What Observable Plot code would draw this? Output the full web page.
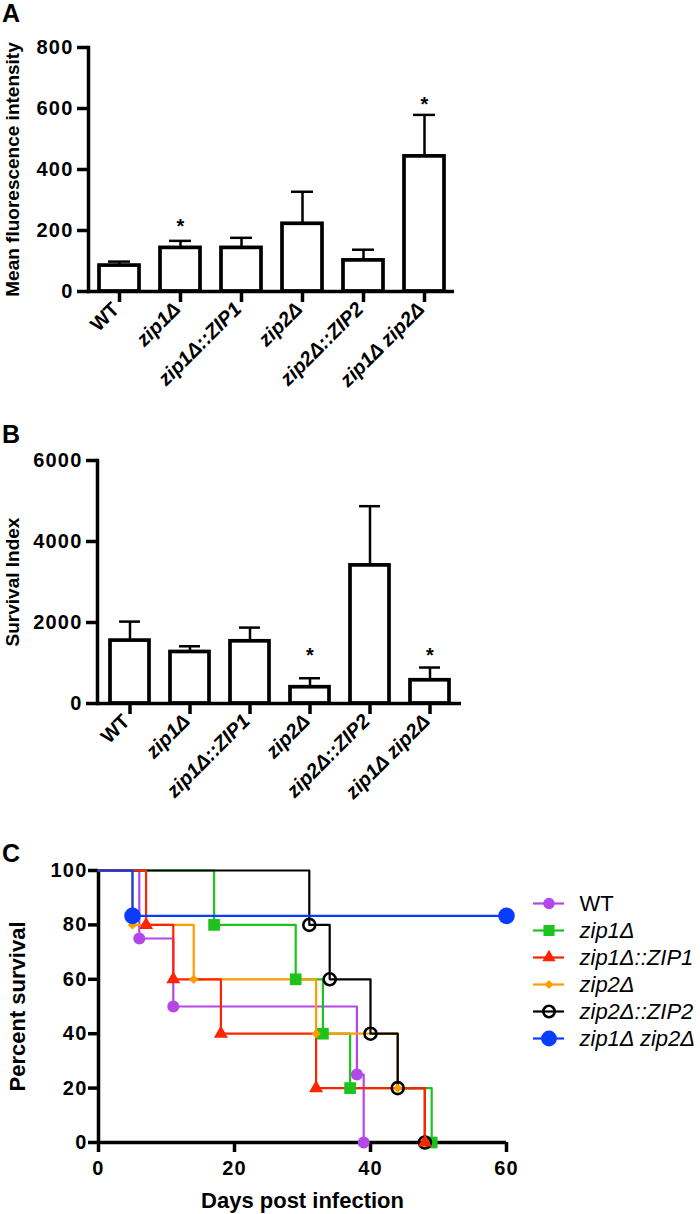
<!DOCTYPE html>
<html>
<head>
<meta charset="utf-8">
<script src="https://cdn.jsdelivr.net/npm/d3@7"></script>
<script src="https://cdn.jsdelivr.net/npm/@observablehq/plot@0.6"></script>
<style>
  html, body { margin: 0; padding: 0; background: #fff; }
  #wrap { position: relative; width: 700px; height: 1214px; overflow: hidden; font-family: 'Liberation Sans', Arial, Helvetica, sans-serif; }
  .panel { position: absolute; }
  .plabel { position: absolute; left: 2px; font-size: 25px; font-weight: bold; line-height: 25px; color: #000; }
  g[aria-label="y-axis tick label"] text, g[aria-label="x-axis tick label"] text { letter-spacing: 1.2px; }
</style>
</head>
<body>
<div id="wrap">
  <div class="plabel" style="top:1px">A</div>
  <div class="plabel" style="top:422px">B</div>
  <div class="plabel" style="top:841px">C</div>
</div>
<script>
// ---------- data ----------
const strains = ["WT", "zip1Δ", "zip1Δ::ZIP1", "zip2Δ", "zip2Δ::ZIP2", "zip1Δ zip2Δ"];

// Panel A: mean fluorescence intensity (mean, SEM)
const mfiMean = [85, 143, 143, 222, 102, 443];
const mfiSem  = [13, 23, 33, 105, 35, 136];
const mfiTicks = [0, 200, 400, 600, 800];
const mfiStarStrains = ["zip1Δ", "zip1Δ zip2Δ"];
const mfiStarY = [229, 629];

// Panel B: survival index (mean, SEM)
const siMean = [1553, 1272, 1536, 402, 3410, 574];
const siSem  = [469, 141, 338, 222, 1462, 314];
const siTicks = [0, 2000, 4000, 6000];
const siStarStrains = ["zip2Δ", "zip1Δ zip2Δ"];
const siStarY = [1300, 1300];

// Panel C: Kaplan–Meier survival (days post infection, percent survival)
const daysWT   = [0, 6, 11, 38, 39];
const pctWT    = [100, 75, 50, 25, 0];
const daysZip1 = [0, 17, 29, 33, 37, 49];
const pctZip1  = [100, 80, 60, 40, 20, 0];
const daysZip1c = [0, 7, 11, 18, 32, 48];
const pctZip1c  = [100, 80, 60, 40, 20, 0];
const daysZip2 = [0, 5, 14, 32, 44, 48];
const pctZip2  = [100, 80, 60, 40, 20, 0];
const daysZip2c = [0, 31, 34, 40, 44, 48];
const pctZip2c  = [100, 80, 60, 40, 20, 0];
const daysDbl  = [0, 5, 60];
const pctDbl   = [100, 83.33, 83.33];
const survXTicks = [0, 20, 40, 60];
const survYTicks = [0, 20, 40, 60, 80, 100];

// ---------- styles ----------
const fam = "'Liberation Sans', Arial, Helvetica, sans-serif";
const seriesStyle = [
  {name: "WT",           days: daysWT,    pct: pctWT,    color: "#b347e8", symbol: "circle",   r: 6,   fill: "#b347e8", sw: 0},
  {name: "zip1Δ",        days: daysZip1,  pct: pctZip1,  color: "#1dc21d", symbol: "square",   r: 6.6, fill: "#1dc21d", sw: 0},
  {name: "zip2Δ",        days: daysZip2,  pct: pctZip2,  color: "#ff9c00", symbol: "diamond2", r: 4.2, fill: "#ff9c00", sw: 0},
  {name: "zip2Δ::ZIP2",  days: daysZip2c, pct: pctZip2c, color: "#000000", symbol: "circle",   r: 6,   fill: "none",    sw: 2.6},
  {name: "zip1Δ::ZIP1",  days: daysZip1c, pct: pctZip1c, color: "#ff2400", symbol: "triangle", r: 5.2, fill: "#ff2400", sw: 0},
  {name: "zip1Δ zip2Δ",  days: daysDbl,   pct: pctDbl,   color: "#0a3cff", symbol: "circle",   r: 8.3, fill: "#0a3cff", sw: 0}
];
const legendOrder = ["WT", "zip1Δ", "zip1Δ::ZIP1", "zip2Δ", "zip2Δ::ZIP2", "zip1Δ zip2Δ"];

const wrap = document.getElementById("wrap");
function place(node, left, top) {
  node.classList.add("panel");
  node.style.left = left + "px";
  node.style.top = top + "px";
  wrap.appendChild(node);
}

// ---------- bar panels ----------
function barPanel({mean, sem, ticks, yMax, title, starStrains, starY, marginLeft, axisEnd, top}) {
  const data = strains.map((s, i) => ({strain: s, mean: mean[i], hi: mean[i] + sem[i]}));
  const stars = starStrains.map((s, i) => ({strain: s, y: starY[i]}));
  const chart = Plot.plot({
    width: axisEnd + 16,
    height: top.h,
    marginLeft, marginRight: 16, marginTop: top.mt, marginBottom: 120,
    style: {fontFamily: fam, color: "black", background: "transparent", overflow: "visible"},
    x: {domain: strains, paddingInner: 0.35, paddingOuter: 0.175, axis: null},
    y: {domain: [0, yMax], axis: null},
    marks: [
      Plot.ruleX(data, {x: "strain", y1: "mean", y2: "hi", strokeWidth: 2.5}),
      Plot.tickY(data, {x: "strain", y: "hi", insetLeft: 9, insetRight: 9, strokeWidth: 2.5}),
      Plot.barY(data, {x: "strain", y: "mean", fill: "white", stroke: "black", strokeWidth: 3.7}),
      Plot.axisY({ticks, tickSize: 11, strokeWidth: 3.5, tickPadding: 4, fontSize: 20, fontWeight: "bold", label: null, tickFormat: d3.format("d")}),
      Plot.axisX({tickSize: 11, strokeWidth: 3.5, tickFormat: () => "", label: null}),
      Plot.ruleY([0], {strokeWidth: 3.5}),
      Plot.frame({anchor: "left", strokeWidth: 3.5}),
      Plot.text(stars, {x: "strain", y: "y", text: () => "*", fontSize: 20, fontWeight: "bold", dy: 5}),
      Plot.text(strains.filter(s => s === "WT"), {x: d => d, frameAnchor: "bottom", rotate: -45, textAnchor: "end", dy: 19, dx: 1, fontSize: 20, fontWeight: "bold"}),
      Plot.text(strains.filter(s => s !== "WT"), {x: d => d, frameAnchor: "bottom", rotate: -45, textAnchor: "end", dy: 19, dx: 1, fontSize: 20, fontWeight: "bold", fontStyle: "italic"}),
      Plot.text([title], {frameAnchor: "left", textAnchor: "middle", lineAnchor: "middle", rotate: -90, dx: -(marginLeft - 12), fontSize: 19, fontWeight: "bold"})
    ]
  });
  place(chart, 0, top.y);
}

barPanel({mean: mfiMean, sem: mfiSem, ticks: mfiTicks, yMax: 800, title: "Mean fluorescence intensity",
  starStrains: mfiStarStrains, starY: mfiStarY, marginLeft: 88, axisEnd: 454, top: {y: 0, mt: 47, h: 411}});
barPanel({mean: siMean, sem: siSem, ticks: siTicks, yMax: 6000, title: "Survival Index",
  starStrains: siStarStrains, starY: siStarY, marginLeft: 97, axisEnd: 461, top: {y: 420, mt: 40, h: 403}});

// ---------- survival panel ----------
const survMarks = [];
for (const s of seriesStyle) {
  const pts = s.days.map((d, i) => ({day: d, pct: s.pct[i]}));
  survMarks.push(Plot.line(pts, {x: "day", y: "pct", curve: "step-after", stroke: s.color, strokeWidth: 2.2}));
}
for (const s of seriesStyle) {
  const pts = s.days.map((d, i) => ({day: d, pct: s.pct[i]})).slice(1);
  survMarks.push(Plot.dot(pts, {x: "day", y: "pct", symbol: s.symbol, r: s.r,
    fill: s.fill, stroke: s.sw ? s.color : "none", strokeWidth: s.sw}));
}
const surv = Plot.plot({
  width: 520, height: 384,
  marginLeft: 98, marginRight: 14, marginTop: 40, marginBottom: 72,
  style: {fontFamily: fam, color: "black", background: "transparent", overflow: "visible"},
  x: {domain: [0, 60], axis: null},
  y: {domain: [0, 100], axis: null},
  marks: [
    Plot.ruleY([0], {strokeWidth: 3.5}),
    Plot.ruleX([0], {strokeWidth: 3.5}),
    Plot.axisY({ticks: survYTicks, tickSize: 10, strokeWidth: 3.5, tickPadding: 1, fontSize: 20, fontWeight: "bold", label: null}),
    Plot.axisX({ticks: survXTicks, tickSize: 10, strokeWidth: 3.5, tickPadding: 8, fontSize: 20, fontWeight: "bold", label: null}),
    ...survMarks,
    Plot.text(["Percent survival"], {frameAnchor: "left", textAnchor: "middle", lineAnchor: "middle", rotate: -90, dx: -81, fontSize: 22, fontWeight: "bold"}),
    Plot.text(["Days post infection"], {frameAnchor: "bottom", textAnchor: "middle", lineAnchor: "middle", dy: 58, fontSize: 22, fontWeight: "bold"})
  ]
});
place(surv, 0, 830);

// ---------- legend for survival panel ----------
const styleByName = Object.fromEntries(seriesStyle.map(s => [s.name, s]));
const legMarks = [];
for (const name of legendOrder) {
  const s = styleByName[name];
  legMarks.push(Plot.ruleY([name], {y: d => d, x1: 0, x2: 1, stroke: s.color, strokeWidth: 2.2}));
  legMarks.push(Plot.dot([name], {x: () => 0.5, y: d => d, symbol: s.symbol, r: s.r * 0.95,
    fill: s.fill, stroke: s.sw ? s.color : "none", strokeWidth: s.sw}));
}
const legend = Plot.plot({
  width: 180, height: 200, margin: 0,
  style: {fontFamily: fam, color: "black", background: "transparent", overflow: "visible"},
  x: {domain: [0, 1], range: [13, 44], axis: null},
  y: {type: "point", domain: legendOrder, range: [19, 181.5], axis: null},
  marks: [
    ...legMarks,
    Plot.text(legendOrder.filter(n => n === "WT"), {x: () => 1, y: d => d, dx: 15, textAnchor: "start", fontSize: 22}),
    Plot.text(legendOrder.filter(n => n !== "WT"), {x: () => 1, y: d => d, dx: 15, textAnchor: "start", fontSize: 22, fontStyle: "italic"})
  ]
});
place(legend, 520, 870);
</script>
</body>
</html>
